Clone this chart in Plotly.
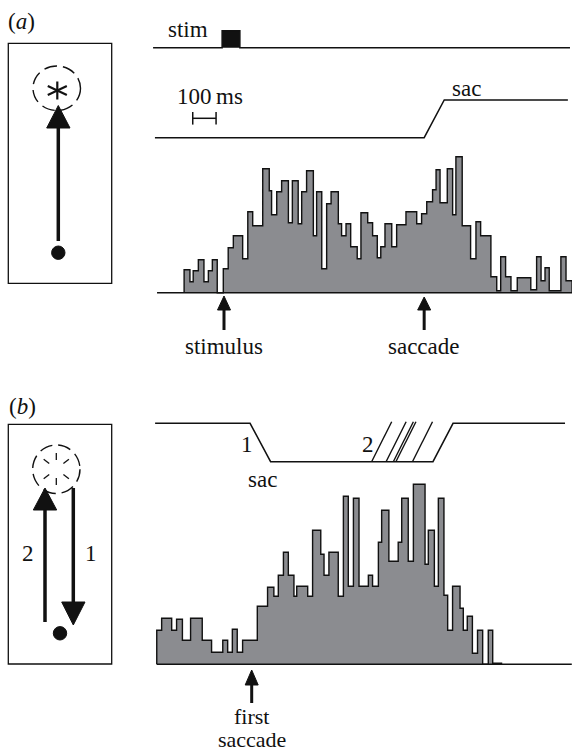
import math
import plotly.graph_objects as go

W, H = 572, 752

# ---------------- data ----------------
# Panel (a): peri-stimulus histogram, time in ms relative to stimulus onset, rate in spikes/s
a_bin_edges_ms = [-171, -146, -132, -110, -86, -67, -50, -29, -3, 18,
                  40, 80, 102, 123, 166, 194, 204, 226, 247, 276,
                  293, 318, 333, 354, 383, 397, 419, 440, 459, 490,
                  504, 523, 543, 571, 587, 616, 637, 657, 672, 690,
                  719, 740, 780, 826, 847, 869, 894, 909, 926, 957,
                  980, 994, 1021, 1057, 1080, 1100, 1144, 1169, 1186, 1207,
                  1230, 1257, 1315, 1340, 1359, 1376, 1394, 1444, 1466, 1492]
a_rates = [23, 11, 22, 33, 11, 22, 33, 0, 24, 45,
           57, 34, 81, 67, 124, 102, 78, 101, 112, 70,
           112, 69, 101, 122, 57, 101, 24, 89, 101, 69,
           57, 69, 46, 34, 80, 70, 57, 35, 46, 69,
           46, 68, 81, 69, 79, 91, 103, 123, 90, 124,
           78, 136, 67, 34, 71, 57, 16, 2, 36, 16,
           2, 15, 3, 36, 12, 25, 2, 36, 12]
a_stim_on_ms, a_stim_off_ms = -8, 68
a_saccade_on_ms, a_saccade_off_ms = 858, 944
a_scalebar_ms = [-134, -34]
a_stim_trace_span_ms = [-304, 1483]
a_sac_trace_span_ms = [-296, 1474]
a_hist_span_ms = [-287, 1492]

# Panel (b): histogram aligned on first saccade onset
b_bin_edges_ms = [-407, -386, -343, -322, -297, -262, -212, -172, -124, -103,
                  -83, -62, -39, 24, 68, 95, 114, 136, 157, 181,
                  193, 240, 261, 296, 310, 331, 371, 393, 414, 436,
                  460, 500, 518, 543, 557, 588, 628, 643, 671, 693,
                  743, 757, 783, 800, 824, 840, 861, 893, 907, 924,
                  946, 968, 990, 1014, 1033, 1071]
b_rates = [34, 46, 34, 45, 24, 46, 24, 12, 24, 12,
           35, 12, 24, 58, 77, 68, 89, 112, 89, 68,
           78, 68, 134, 110, 89, 112, 68, 168, 78, 166,
           78, 89, 78, 122, 154, 103, 122, 166, 103, 180,
           100, 134, 78, 166, 69, 34, 78, 56, 34, 48,
           11, 34, 0, 34, 1]
b_first_sac_on_ms, b_first_sac_off_ms = -7, 81
b_second_sac_on_ms = [514, 576, 607, 618, 689, 777]
b_second_sac_dur_ms = 86
b_trace_span_ms = [-414, 1343]
b_hist_span_ms = [-407, 1372]

# ---------------- layout constants (pixels) ----------------
PX_PER_MS = 0.2333
A_X0_PX, A_Y0_PX = 224.0, 292.7      # stimulus onset / zero rate
B_X0_PX, B_Y0_PX = 251.7, 664.3      # first saccade onset / zero rate

FONT = "Liberation Serif"
FS = 23
GRAY = "rgb(139,140,144)"
INK = "#111111"

fig = go.Figure()


def step_xy(edges, rates):
    xs = [edges[0]] + list(edges)
    ys = [0] + list(rates) + [0]
    return xs, ys


# ---------- panel (a) histogram ----------
xs, ys = step_xy(a_bin_edges_ms, a_rates)
fig.add_trace(go.Scatter(x=xs, y=ys, xaxis="x2", yaxis="y2", mode="lines",
                         line=dict(shape="hv", color=INK, width=1.4),
                         fill="tozeroy", fillcolor=GRAY, hoverinfo="skip"))
fig.add_trace(go.Scatter(x=a_hist_span_ms, y=[0, 0], xaxis="x2", yaxis="y2", mode="lines",
                         line=dict(color=INK, width=1.6), hoverinfo="skip"))

# stimulus trace
ST_LO, ST_HI = 245, 262
fig.add_trace(go.Scatter(
    x=[a_stim_trace_span_ms[0], a_stim_on_ms, a_stim_on_ms, a_stim_off_ms, a_stim_off_ms,
       a_stim_trace_span_ms[1]],
    y=[ST_LO, ST_LO, ST_HI, ST_HI, ST_LO, ST_LO],
    xaxis="x2", yaxis="y2", mode="lines", fill="toself", fillcolor=INK,
    line=dict(color=INK, width=1.5), hoverinfo="skip"))

# saccade trace
SA_LO, SA_HI = 155, 192.7
fig.add_trace(go.Scatter(
    x=[a_sac_trace_span_ms[0], a_saccade_on_ms, a_saccade_off_ms, a_sac_trace_span_ms[1]],
    y=[SA_LO, SA_LO, SA_HI, SA_HI],
    xaxis="x2", yaxis="y2", mode="lines", line=dict(color=INK, width=1.5), hoverinfo="skip"))

# scale bar 100 ms
SB_Y, SB_CAP = 174.4, 6.3
fig.add_trace(go.Scatter(
    x=[a_scalebar_ms[0], a_scalebar_ms[0], None, a_scalebar_ms[0], a_scalebar_ms[1], None,
       a_scalebar_ms[1], a_scalebar_ms[1]],
    y=[SB_Y - SB_CAP, SB_Y + SB_CAP, None, SB_Y, SB_Y, None, SB_Y - SB_CAP, SB_Y + SB_CAP],
    xaxis="x2", yaxis="y2", mode="lines", line=dict(color=INK, width=1.5), hoverinfo="skip"))

# ---------- panel (b) histogram ----------
xs, ys = step_xy(b_bin_edges_ms, b_rates)
fig.add_trace(go.Scatter(x=xs, y=ys, xaxis="x3", yaxis="y3", mode="lines",
                         line=dict(shape="hv", color=INK, width=1.4),
                         fill="tozeroy", fillcolor=GRAY, hoverinfo="skip"))
fig.add_trace(go.Scatter(x=b_hist_span_ms, y=[0, 0], xaxis="x3", yaxis="y3", mode="lines",
                         line=dict(color=INK, width=1.6), hoverinfo="skip"))

# saccade trace (b)
BT_HI, BT_LO = 241, 202.6
last_on = b_second_sac_on_ms[-1]
fig.add_trace(go.Scatter(
    x=[b_trace_span_ms[0], b_first_sac_on_ms, b_first_sac_off_ms, last_on,
       last_on + b_second_sac_dur_ms, b_trace_span_ms[1]],
    y=[BT_HI, BT_HI, BT_LO, BT_LO, BT_HI, BT_HI],
    xaxis="x3", yaxis="y3", mode="lines", line=dict(color=INK, width=1.5), hoverinfo="skip"))
sx, sy = [], []
for on in b_second_sac_on_ms[:-1]:
    sx += [on, on + b_second_sac_dur_ms, None]
    sy += [BT_LO, BT_HI + 1.5, None]
fig.add_trace(go.Scatter(x=sx, y=sy, xaxis="x3", yaxis="y3", mode="lines",
                         line=dict(color=INK, width=1.4), hoverinfo="skip"))

shapes = []
annotations = []


def line(x0, y0, x1, y1, w=1.4, xref="x", yref="y", dash=None):
    d = dict(type="line", x0=x0, y0=y0, x1=x1, y1=y1, xref=xref, yref=yref,
             line=dict(color=INK, width=w))
    if dash:
        d["line"]["dash"] = dash
    shapes.append(d)


def tri(pts, xref="x", yref="y"):
    path = "M " + " L ".join(f"{x},{y}" for x, y in pts) + " Z"
    shapes.append(dict(type="path", path=path, xref=xref, yref=yref,
                       fillcolor=INK, line=dict(color=INK, width=1)))


def text(t, x, y, xref="x", yref="y", size=FS):
    annotations.append(dict(text=t, x=x, y=y, xref=xref, yref=yref, showarrow=False,
                            xanchor="center", yanchor="middle",
                            font=dict(family=FONT, size=size, color=INK)))


# arrows below histograms (time from data, vertical in pixels)
def event_arrow(t, xref, tip, base, tail):
    hw = 6.5 / PX_PER_MS
    line(t, base, t, tail, w=3, xref=xref)
    tri([(t - hw, base), (t + hw, base), (t, tip)], xref=xref)


event_arrow(0, "x2", 296, 310, 330)
event_arrow(a_saccade_on_ms, "x2", 297, 310, 330)
event_arrow(0, "x3", 670, 685, 703)

# ---------- left schematic boxes ----------
for (y0, y1) in [(43.3, 283.3), (424.3, 664)]:
    shapes.append(dict(type="rect", x0=8.3, x1=111.7, y0=y0, y1=y1, xref="x", yref="y",
                       line=dict(color=INK, width=1.3)))

# (a) target circle + asterisk
shapes.append(dict(type="circle", x0=33, x1=80.5, y0=66, y1=110.5, xref="x", yref="y",
                   line=dict(color=INK, width=1.4, dash="13px,6px")))
cx, cy = 57.3, 90.5
for ang, r in [(90, 9), (270, 9), (25, 10.5), (155, 10.5), (205, 10.5), (335, 10.5)]:
    line(cx, cy, cx + r * math.cos(math.radians(ang)), cy - r * math.sin(math.radians(ang)), w=2.2)
# arrow up
line(58.3, 241, 58.3, 127, w=3.5)
tri([(46.7, 128), (70, 128), (58.3, 105.5)])
shapes.append(dict(type="circle", x0=51.6, x1=65, y0=246, y1=259.4, xref="x", yref="y",
                   fillcolor=INK, line=dict(color=INK, width=1)))

# (b) target circle with dashed asterisk
shapes.append(dict(type="circle", x0=32.7, x1=80, y0=445, y1=493.5, xref="x", yref="y",
                   line=dict(color=INK, width=1.4, dash="13px,6px")))
cx, cy = 56.3, 469
for ang in [90, 270, 38, 142, 218, 322]:
    c, s = math.cos(math.radians(ang)), math.sin(math.radians(ang))
    line(cx + 9 * c, cy - 9 * s, cx + 16 * c, cy - 16 * s, w=1.3)
# arrow 2 (up)
line(45, 622, 45, 509, w=3.5)
tri([(33.3, 510), (56.7, 510), (45, 488)])
# arrow 1 (down)
line(73.3, 488, 73.3, 603, w=3.5)
tri([(61.7, 602), (85, 602), (73.3, 625)])
shapes.append(dict(type="circle", x0=53.3, x1=66.7, y0=626.6, y1=640, xref="x", yref="y",
                   fillcolor=INK, line=dict(color=INK, width=1)))

# ---------- texts ----------
text("(<i>a</i>)", 21.5, 21)
text("(<i>b</i>)", 22.5, 406)
text("stim", 188, 29)
text("sac", 466, 88)
text("100\u2009ms", 210, 96)
text("stimulus", 0, 346, xref="x2")
text("saccade", a_saccade_on_ms, 346, xref="x2")
text("1", 246.7, 444.5)
text("2", 367.5, 444.5)
text("sac", 262, 479)
text("first", 0, 716, xref="x3", size=22)
text("saccade", 0, 739.5, xref="x3", size=22)
text("2", 28.3, 553)
text("1", 90.7, 553)

ax_common = dict(visible=False, showgrid=False, zeroline=False, fixedrange=True)
fig.update_layout(
    width=W, height=H, margin=dict(l=0, r=0, t=0, b=0),
    paper_bgcolor="white", plot_bgcolor="white", showlegend=False,
    shapes=shapes, annotations=annotations,
    xaxis=dict(range=[0, W], domain=[0, 1], **ax_common),
    yaxis=dict(range=[H, 0], domain=[0, 1], **ax_common),
    xaxis2=dict(range=[-A_X0_PX / PX_PER_MS, (W - A_X0_PX) / PX_PER_MS], overlaying="x",
                anchor="y2", **ax_common),
    yaxis2=dict(range=[A_Y0_PX - H, A_Y0_PX], overlaying="y", anchor="x2", **ax_common),
    xaxis3=dict(range=[-B_X0_PX / PX_PER_MS, (W - B_X0_PX) / PX_PER_MS], overlaying="x",
                anchor="y3", **ax_common),
    yaxis3=dict(range=[B_Y0_PX - H, B_Y0_PX], overlaying="y", anchor="x3", **ax_common),
)

fig.write_html("out.html", config={"displayModeBar": False},
               post_script="document.body.style.margin='0';document.body.style.overflow='hidden';")
